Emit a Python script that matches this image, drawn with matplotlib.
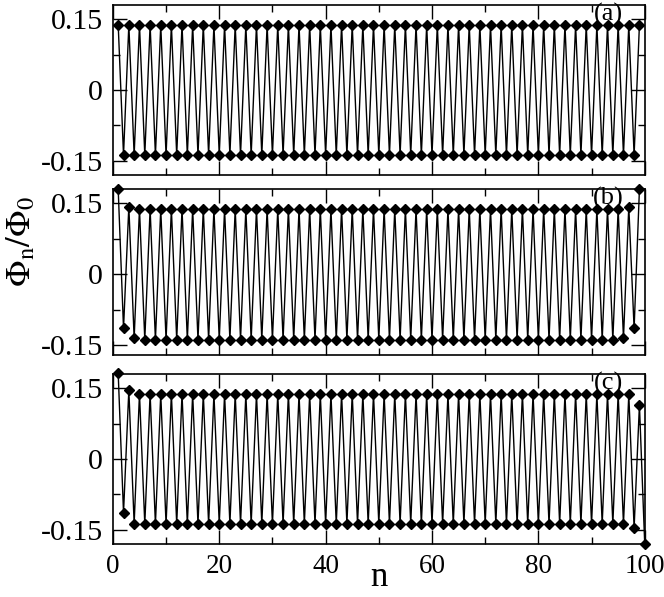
import matplotlib
matplotlib.use('Agg')
import matplotlib.pyplot as plt
from matplotlib.ticker import MultipleLocator

plt.rcParams['font.family'] = ['Liberation Serif', 'DejaVu Serif']
plt.rcParams['mathtext.fontset'] = 'stix'

# values, one list per panel (n = 1, 2, 3, ...)
phi_a = [
	0.138, -0.138, 0.138, -0.138, 0.138, -0.138, 0.138, -0.138, 0.138, -0.138,
	0.138, -0.138, 0.138, -0.138, 0.138, -0.138, 0.138, -0.138, 0.138, -0.138,
	0.138, -0.138, 0.138, -0.138, 0.138, -0.138, 0.138, -0.138, 0.138, -0.138,
	0.138, -0.138, 0.138, -0.138, 0.138, -0.138, 0.138, -0.138, 0.138, -0.138,
	0.138, -0.138, 0.138, -0.138, 0.138, -0.138, 0.138, -0.138, 0.138, -0.138,
	0.138, -0.138, 0.138, -0.138, 0.138, -0.138, 0.138, -0.138, 0.138, -0.138,
	0.138, -0.138, 0.138, -0.138, 0.138, -0.138, 0.138, -0.138, 0.138, -0.138,
	0.138, -0.138, 0.138, -0.138, 0.138, -0.138, 0.138, -0.138, 0.138, -0.138,
	0.138, -0.138, 0.138, -0.138, 0.138, -0.138, 0.138, -0.138, 0.138, -0.138,
	0.138, -0.138, 0.138, -0.138, 0.138, -0.138, 0.138, -0.138, 0.138,
]

phi_b = [
	0.179, -0.114, 0.143, -0.135, 0.138, -0.138, 0.138, -0.138, 0.138, -0.138,
	0.138, -0.138, 0.138, -0.138, 0.138, -0.138, 0.138, -0.138, 0.138, -0.138,
	0.138, -0.138, 0.138, -0.138, 0.138, -0.138, 0.138, -0.138, 0.138, -0.138,
	0.138, -0.138, 0.138, -0.138, 0.138, -0.138, 0.138, -0.138, 0.138, -0.138,
	0.138, -0.138, 0.138, -0.138, 0.138, -0.138, 0.138, -0.138, 0.138, -0.138,
	0.138, -0.138, 0.138, -0.138, 0.138, -0.138, 0.138, -0.138, 0.138, -0.138,
	0.138, -0.138, 0.138, -0.138, 0.138, -0.138, 0.138, -0.138, 0.138, -0.138,
	0.138, -0.138, 0.138, -0.138, 0.138, -0.138, 0.138, -0.138, 0.138, -0.138,
	0.138, -0.138, 0.138, -0.138, 0.138, -0.138, 0.138, -0.138, 0.138, -0.138,
	0.138, -0.138, 0.138, -0.138, 0.138, -0.135, 0.143, -0.114, 0.179,
]

phi_c = [
	0.181, -0.114, 0.146, -0.137, 0.138, -0.138, 0.138, -0.138, 0.138, -0.138,
	0.138, -0.138, 0.138, -0.138, 0.138, -0.138, 0.138, -0.138, 0.138, -0.138,
	0.138, -0.138, 0.138, -0.138, 0.138, -0.138, 0.138, -0.138, 0.138, -0.138,
	0.138, -0.138, 0.138, -0.138, 0.138, -0.138, 0.138, -0.138, 0.138, -0.138,
	0.138, -0.138, 0.138, -0.138, 0.138, -0.138, 0.138, -0.138, 0.138, -0.138,
	0.138, -0.138, 0.138, -0.138, 0.138, -0.138, 0.138, -0.138, 0.138, -0.138,
	0.138, -0.138, 0.138, -0.138, 0.138, -0.138, 0.138, -0.138, 0.138, -0.138,
	0.138, -0.138, 0.138, -0.138, 0.138, -0.138, 0.138, -0.138, 0.138, -0.138,
	0.138, -0.138, 0.138, -0.138, 0.138, -0.138, 0.138, -0.138, 0.138, -0.138,
	0.138, -0.138, 0.138, -0.138, 0.138, -0.138, 0.137, -0.146, 0.114, -0.181,
]

panel_labels = ['(a)', '(b)', '(c)']
y_limits = [(-0.18, 0.18), (-0.17, 0.18), (-0.18, 0.18)]
# axes rectangles in figure fractions (left, bottom, width, height)
rects = [
	(0.170, 0.7069, 0.801, 0.2848),
	(0.170, 0.4054, 0.801, 0.2780),
	(0.170, 0.0888, 0.801, 0.2848),
]


def plot_panel(fig, rect, phi, label, ylim, last):
	"""Draw one panel of the stacked chart"""
	ax = fig.add_axes(rect)
	n = list(range(1, len(phi) + 1))
	ax.plot(n, phi, color='black', lw=1.0, marker='D', ms=5, clip_on=False)
	ax.set_xlim(0, 100)
	ax.set_ylim(*ylim)
	ax.xaxis.set_major_locator(MultipleLocator(20))
	ax.xaxis.set_minor_locator(MultipleLocator(10))
	ax.set_yticks([-0.15, 0, 0.15])
	ax.set_yticklabels(['-0.15', '0', '0.15'])
	ax.yaxis.set_minor_locator(MultipleLocator(0.075))
	ax.tick_params(which='both', direction='in', top=True, right=True, width=1)
	ax.tick_params(axis='y', labelsize=21.5)
	ax.tick_params(axis='x', labelsize=19.5)
	ax.tick_params(which='major', length=10, pad=7)
	ax.tick_params(which='minor', length=5)
	for s in ax.spines.values():
		s.set_linewidth(1.2)
	if not last:
		ax.set_xticklabels([])
	ax.text(0.932, 1.01, label, transform=ax.transAxes, ha='center', va='top',
		fontsize=19)
	return ax


def main():
	fig = plt.figure(figsize=(6.64, 5.97), dpi=100)
	for i in range(3):
		plot_panel(fig, rects[i], [phi_a, phi_b, phi_c][i], panel_labels[i],
			y_limits[i], i == 2)
	fig.text(0.5699, 0.005, 'n', ha='center', va='bottom', fontsize=25)
	fig.text(0.008, 0.595, r'$\Phi_{\rm n}/\Phi_0$', rotation=90, ha='left',
		va='center', fontsize=25)
	fig.savefig('out.png', dpi=100)


if __name__ == '__main__':
	main()
